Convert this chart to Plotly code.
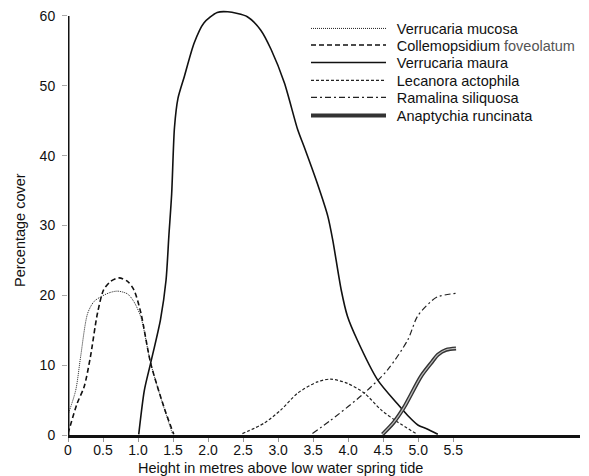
import plotly.graph_objects as go

# Data (height in m, percentage cover)
mucosa_x = [0, 0.11, 0.18, 0.28, 0.37, 0.47, 0.6, 0.71, 0.85, 0.94, 1.04, 1.18, 1.32, 1.49]
mucosa_y = [2.9, 6.4, 11.2, 17.4, 19.1, 19.8, 20.4, 20.6, 20.2, 19.1, 16.9, 10.3, 5.5, 0.2]

colle_x = [0, 0.13, 0.23, 0.32, 0.42, 0.51, 0.61, 0.73, 0.85, 0.94, 1.04, 1.18, 1.37, 1.51]
colle_y = [0.2, 4.5, 6.9, 11.2, 17.4, 20.8, 22.0, 22.5, 22.0, 20.8, 17.5, 10.3, 4.0, 0.1]

maura_x = [1.01, 1.09, 1.18, 1.32, 1.40, 1.44, 1.48, 1.52, 1.57, 1.66, 1.8, 1.94, 2.13, 2.28, 2.56,
           2.75, 2.9, 3.09, 3.28, 3.37, 3.56, 3.71, 3.78, 3.9, 3.99, 4.13, 4.42, 4.7, 4.85, 5.0, 5.12, 5.28]
maura_y = [0.1, 6.4, 10.3, 16.5, 22.2, 28.5, 34.5, 44.0, 48.2, 51.3, 56.1, 59.0, 60.5, 60.6, 59.9,
           58.0, 55.2, 50.4, 43.7, 41.3, 36.0, 31.3, 27.9, 20.8, 17.0, 13.6, 7.9, 4.5, 2.8, 1.4, 0.9, 0.1]

lecan_x = [2.49, 2.8, 3.04, 3.28, 3.56, 3.75, 3.99, 4.23, 4.47, 4.7, 4.97]
lecan_y = [0.2, 1.7, 3.6, 6.0, 7.6, 8.0, 7.4, 6.0, 3.6, 1.9, 0.2]

ramal_x = [3.49, 3.75, 4.23, 4.56, 4.85, 4.99, 5.18, 5.28, 5.54]
ramal_y = [0.2, 2.1, 6.0, 9.3, 13.6, 17.0, 19.1, 19.8, 20.3]

anapt_x = [4.49, 4.65, 4.8, 5.04, 5.2, 5.28, 5.4, 5.54]
anapt_y = [0.1, 1.8, 4.0, 8.4, 10.5, 11.5, 12.2, 12.4]

x_ticks = [0, 0.5, 1.0, 1.5, 2.0, 2.5, 3.0, 3.5, 4.0, 4.5, 5.0, 5.5]
x_tick_labels = ["0", "0.5", "1.0", "1.5", "2.0", "2.5", "3.0", "3.5", "4.0", "4.5", "5.0", "5.5"]
y_ticks = [0, 10, 20, 30, 40, 50, 60]
y_axis_top = 60

FONT = "Liberation Sans, Arial, Helvetica, sans-serif"

# plot-area geometry (px)
PW, PH = 512, 426

def legend_box(row_page_y):
    return dict(x=(306 - 68) / PW, y=(435 - row_page_y) / PH, xanchor="left", yanchor="middle",
                bgcolor="rgba(0,0,0,0)", font=dict(size=14.5, color="#111"), itemwidth=75,
                tracegroupgap=0)

rows = [28.5, 45, 62.5, 80.5, 97.5, 115.5]
PAD = "\u2009\u2009"

fig = go.Figure()
fig.add_trace(go.Scatter(x=mucosa_x, y=mucosa_y, mode="lines", name=PAD + "Verrucaria mucosa", legend="legend",
                         line=dict(color="#222", width=1, dash="1px,1px", shape="spline", smoothing=0.8)))
fig.add_trace(go.Scatter(x=colle_x, y=colle_y, mode="lines", legend="legend2",
                         name=PAD + 'Collemopsidium <span style="color:#555">foveolatum</span>',
                         line=dict(color="#111", width=1.6, dash="5px,3px", shape="spline", smoothing=0.8)))
fig.add_trace(go.Scatter(x=maura_x, y=maura_y, mode="lines", name=PAD + "Verrucaria maura", legend="legend3",
                         line=dict(color="#111", width=1.6, shape="spline", smoothing=0.7)))
fig.add_trace(go.Scatter(x=lecan_x, y=lecan_y, mode="lines", name=PAD + "Lecanora actophila", legend="legend4",
                         line=dict(color="#222", width=1.2, dash="3px,2px", shape="spline", smoothing=0.8)))
fig.add_trace(go.Scatter(x=ramal_x, y=ramal_y, mode="lines", name=PAD + "Ramalina siliquosa", legend="legend5",
                         line=dict(color="#222", width=1.2, dash="6px,3px,2px,3px", shape="spline", smoothing=0.8)))
fig.add_trace(go.Scatter(x=anapt_x, y=anapt_y, mode="lines", name=PAD + "Anaptychia runcinata", legend="legend6",
                         line=dict(color="#333", width=4, shape="spline", smoothing=0.8)))
fig.add_trace(go.Scatter(x=anapt_x, y=anapt_y, mode="lines", showlegend=False, hoverinfo="skip",
                         line=dict(color="#bbb", width=1.2, shape="spline", smoothing=0.8)))

fig.update_layout(
    width=581, height=468,
    margin=dict(l=60, r=9, t=1, b=41),
    paper_bgcolor="white", plot_bgcolor="white",
    font=dict(family=FONT, size=14, color="#111"),
    showlegend=True,
    legend=legend_box(rows[0]),
    legend2=legend_box(rows[1]),
    legend3=legend_box(rows[2]),
    legend4=legend_box(rows[3]),
    legend5=legend_box(rows[4]),
    legend6=legend_box(rows[5]),
    xaxis=dict(range=[0, 7.31], tickvals=x_ticks, ticktext=x_tick_labels, showgrid=False, zeroline=False,
               showline=True, linecolor="#111", linewidth=3, ticks="outside", ticklen=4, tickcolor="#999",
               tickwidth=1, tickfont=dict(size=14), ticklabelstandoff=-4, ticklabeloverflow="allow"),
    yaxis=dict(range=[0, 61], tickvals=y_ticks, showgrid=False, zeroline=False,
               showline=False, ticks="outside", ticklen=5, tickcolor="#aaa",
               tickwidth=1, tickfont=dict(size=14), ticklabelstandoff=4, ticklabeloverflow="allow"),
    shapes=[dict(type="line", xref="x", yref="y", x0=0, x1=0, y0=0, y1=y_axis_top,
                 line=dict(color="#111", width=3))],
    annotations=[
        dict(text="Height in metres above low water spring tide", xref="paper", yref="paper",
             x=(280 - 68) / PW, y=(435 - 468) / PH, xanchor="center", yanchor="middle",
             showarrow=False, font=dict(size=14.5)),
        dict(text="Percentage cover", xref="paper", yref="paper", textangle=-90,
             x=(20 - 68) / PW, y=(435 - 230) / PH, xanchor="center", yanchor="middle",
             showarrow=False, font=dict(size=14.5)),
    ],
)

fig.write_html("out.html")
